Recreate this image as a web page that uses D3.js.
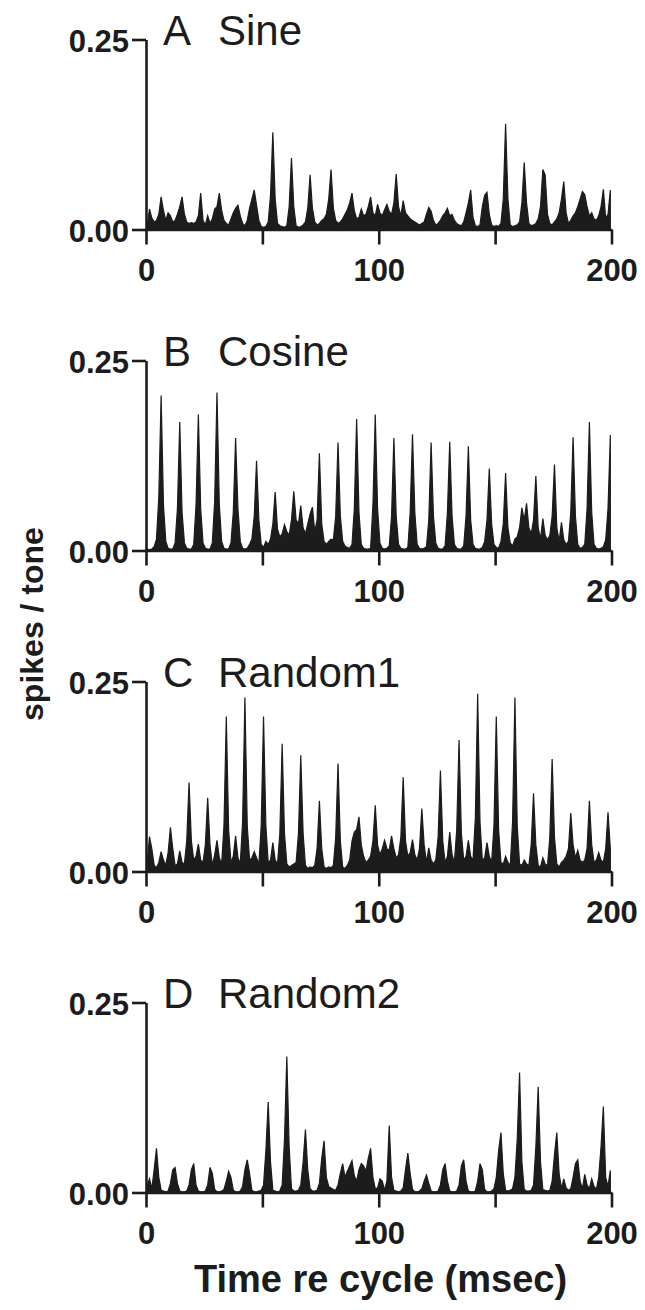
<!DOCTYPE html>
<html>
<head>
<meta charset="utf-8">
<script src="https://cdn.jsdelivr.net/npm/d3@7"></script>
<style>
  html, body { margin: 0; padding: 0; background: #ffffff; }
  svg { display: block; }
</style>
</head>
<body>
<svg id="chart" width="645" height="1310"></svg>
<script>
// ---------------- DATA ----------------
// Post-stimulus time histograms, 1-ms bins (bin i covers i..i+1 msec).
// Values are in milli-spikes per tone (x 0.001 spikes/tone).
const panelLetters = ["A", "B", "C", "D"];
const panelNames = ["Sine", "Cosine", "Random1", "Random2"];
const xTickValues = [0, 50, 100, 150, 200];
const xTickLabels = ["0", "", "100", "", "200"];
const yTickValues = [0, 0.25];
const yTickLabels = ["0.00", "0.25"];

const sineRate = [
  5,27,15,10,12,20,43,25,12,22,
  18,10,12,20,30,43,20,10,8,9,
  8,10,18,48,12,6,18,8,14,27,
  30,48,25,12,8,6,14,22,28,32,
  18,8,5,12,28,40,52,32,12,4,
  3,4,10,45,128,40,8,5,4,3,
  5,30,94,30,5,3,4,6,10,28,
  72,28,10,6,8,12,14,20,40,79,
  28,12,8,10,14,20,26,35,48,25,
  14,16,27,18,20,30,43,22,18,33,
  22,18,26,33,24,20,35,73,30,18,
  38,22,18,14,12,10,8,6,8,10,
  20,29,24,12,6,8,12,18,22,28,
  18,20,12,8,6,5,10,22,35,52,
  16,5,4,6,30,45,49,20,6,4,
  5,4,8,40,139,40,6,4,5,6,
  10,35,88,35,8,5,6,8,14,30,
  79,72,20,8,6,10,14,22,40,63,
  22,8,12,18,22,30,40,50,46,30,
  18,22,14,12,18,30,53,15,20,52
];

const cosineRate = [
  2,1,2,5,15,70,204,60,12,3,
  2,2,10,55,169,50,10,3,2,2,
  8,60,179,55,10,3,2,2,10,65,
  208,60,12,3,2,2,10,50,148,55,
  12,3,2,3,8,15,45,118,40,8,
  4,12,8,15,35,77,28,18,22,34,
  25,20,40,78,40,35,59,30,22,35,
  48,57,25,40,128,35,12,8,12,15,
  14,45,142,45,12,6,4,3,8,55,
  173,50,8,3,2,2,3,60,179,55,
  10,3,2,3,6,45,148,45,8,3,
  2,2,4,50,153,50,8,3,2,3,
  5,40,142,45,10,3,2,2,6,50,
  143,45,8,3,2,2,6,45,137,40,
  8,3,2,2,4,12,40,108,35,8,
  4,3,12,35,102,30,10,6,15,18,
  30,56,40,62,30,22,40,98,30,15,
  42,20,14,20,45,113,30,12,37,14,
  8,12,50,149,45,8,3,4,8,55,
  169,50,8,3,2,3,5,14,55,152
];

const random1Rate = [
  10,46,30,8,5,12,26,15,8,25,
  58,30,8,10,27,12,10,40,117,40,
  15,20,36,15,12,35,97,35,8,22,
  41,18,10,60,204,55,12,20,47,18,
  10,65,229,60,15,18,26,18,10,60,
  204,60,12,15,38,15,10,50,168,50,
  10,6,8,10,12,50,153,50,8,4,
  6,5,8,30,93,30,6,4,6,5,
  8,45,142,40,6,4,8,15,40,52,
  55,72,35,20,12,15,20,40,87,35,
  22,30,41,30,28,47,30,18,22,45,
  124,40,20,25,42,22,15,30,83,35,
  12,31,15,10,15,45,133,40,12,20,
  52,22,12,55,173,50,15,20,41,20,
  15,70,234,65,15,18,38,20,12,60,
  204,55,12,10,20,12,8,65,229,60,
  10,8,15,10,8,35,103,35,8,6,
  18,10,8,45,148,45,10,6,12,15,
  20,30,77,35,18,28,15,12,15,30,
  93,35,12,15,25,15,12,30,78,30
];

const random2Rate = [
  8,18,5,30,58,20,3,2,1,2,
  12,30,33,12,2,1,1,2,10,30,
  38,10,2,1,1,2,10,33,25,4,
  1,1,2,4,15,28,20,3,1,1,
  2,8,30,43,25,3,1,1,2,3,
  10,55,119,40,3,2,1,2,10,70,
  179,60,5,2,2,3,10,40,83,30,
  5,2,2,3,12,45,68,20,8,6,
  4,3,10,25,38,20,28,35,42,22,
  15,30,38,35,28,45,58,20,5,6,
  18,15,3,15,88,20,3,2,1,2,
  6,30,52,25,4,1,1,2,5,15,
  23,12,2,1,1,2,10,30,38,15,
  2,1,1,2,10,35,43,15,2,1,
  1,2,15,38,30,4,1,1,2,5,
  20,55,79,25,3,2,3,5,20,70,
  158,40,4,2,2,3,10,60,139,40,
  4,3,2,3,15,50,79,25,5,18,
  6,3,5,20,38,43,15,5,24,10,
  5,18,8,4,20,60,113,20,8,29
];

const panelRates = [sineRate, cosineRate, random1Rate, random2Rate];

// ---------------- LAYOUT ----------------
const svg = d3.select("#chart");
const ink = "#1c1c1c";
const xLeft = 146, xRight = 611.5;
const firstTop = 39.5, panelStep = 321, plotH = 190;

const x = d3.scaleLinear().domain([0, 200]).range([xLeft, xRight]);

panelRates.forEach((rates, k) => {
  const top = firstTop + k * panelStep;
  const y = d3.scaleLinear().domain([0, 0.25]).range([top + plotH, top]);
  const g = svg.append("g");

  // histogram as filled area through bin centres
  const pts = rates.map((v, i) => [i + 0.5, v / 1000]);
  const area = d3.area()
    .x(d => x(d[0]))
    .y0(y(0))
    .y1(d => y(d[1]))
    .curve(d3.curveLinear);
  g.append("path")
    .datum(pts)
    .attr("d", area)
    .attr("fill", ink)
    .attr("stroke", ink)
    .attr("stroke-width", 1.2)
    .attr("stroke-linejoin", "miter");

  // x axis
  const xAxis = d3.axisBottom(x)
    .tickValues(xTickValues)
    .tickFormat((d, i) => xTickLabels[i])
    .tickSize(15)
    .tickSizeOuter(0)
    .tickPadding(14);
  const gx = g.append("g")
    .attr("transform", `translate(0,${y(0)})`)
    .call(xAxis);
  gx.select(".domain").attr("stroke", ink).attr("stroke-width", 2.6);
  gx.selectAll(".tick line").attr("stroke", ink).attr("stroke-width", 2.6);
  gx.selectAll(".tick text")
    .attr("fill", ink)
    .style("font-family", "'Liberation Sans', Arial, sans-serif")
    .style("font-weight", "bold")
    .style("font-size", "31px");

  // y axis
  const yAxis = d3.axisLeft(y)
    .tickValues(yTickValues)
    .tickFormat((d, i) => yTickLabels[i])
    .tickSize(14)
    .tickSizeOuter(0)
    .tickPadding(3);
  const gy = g.append("g")
    .attr("transform", `translate(${xLeft},0)`)
    .call(yAxis);
  gy.select(".domain").attr("stroke", ink).attr("stroke-width", 2.6);
  gy.selectAll(".tick line").attr("stroke", ink).attr("stroke-width", 2.6);
  gy.selectAll(".tick text")
    .attr("fill", ink)
    .attr("dy", "0.40em")
    .style("font-family", "'Liberation Sans', Arial, sans-serif")
    .style("font-weight", "bold")
    .style("font-size", "31px");

  // panel title
  g.append("text")
    .attr("x", 163).attr("y", top + 5)
    .attr("fill", ink)
    .style("font-family", "'Liberation Sans', Arial, sans-serif")
    .style("font-size", "42px")
    .text(panelLetters[k]);
  g.append("text")
    .attr("x", 218).attr("y", top + 5)
    .attr("fill", ink)
    .style("font-family", "'Liberation Sans', Arial, sans-serif")
    .style("font-size", "42px")
    .text(panelNames[k]);
});

// axis titles
svg.append("text")
  .attr("transform", "translate(43,624) rotate(-90)")
  .attr("text-anchor", "middle")
  .attr("fill", ink)
  .style("font-family", "'Liberation Sans', Arial, sans-serif")
  .style("font-weight", "bold")
  .style("font-size", "32px")
  .text("spikes / tone");

svg.append("text")
  .attr("x", 380.5).attr("y", 1292)
  .attr("text-anchor", "middle")
  .attr("fill", ink)
  .style("font-family", "'Liberation Sans', Arial, sans-serif")
  .style("font-weight", "bold")
  .style("font-size", "38px")
  .text("Time re cycle (msec)");
</script>
</body>
</html>
